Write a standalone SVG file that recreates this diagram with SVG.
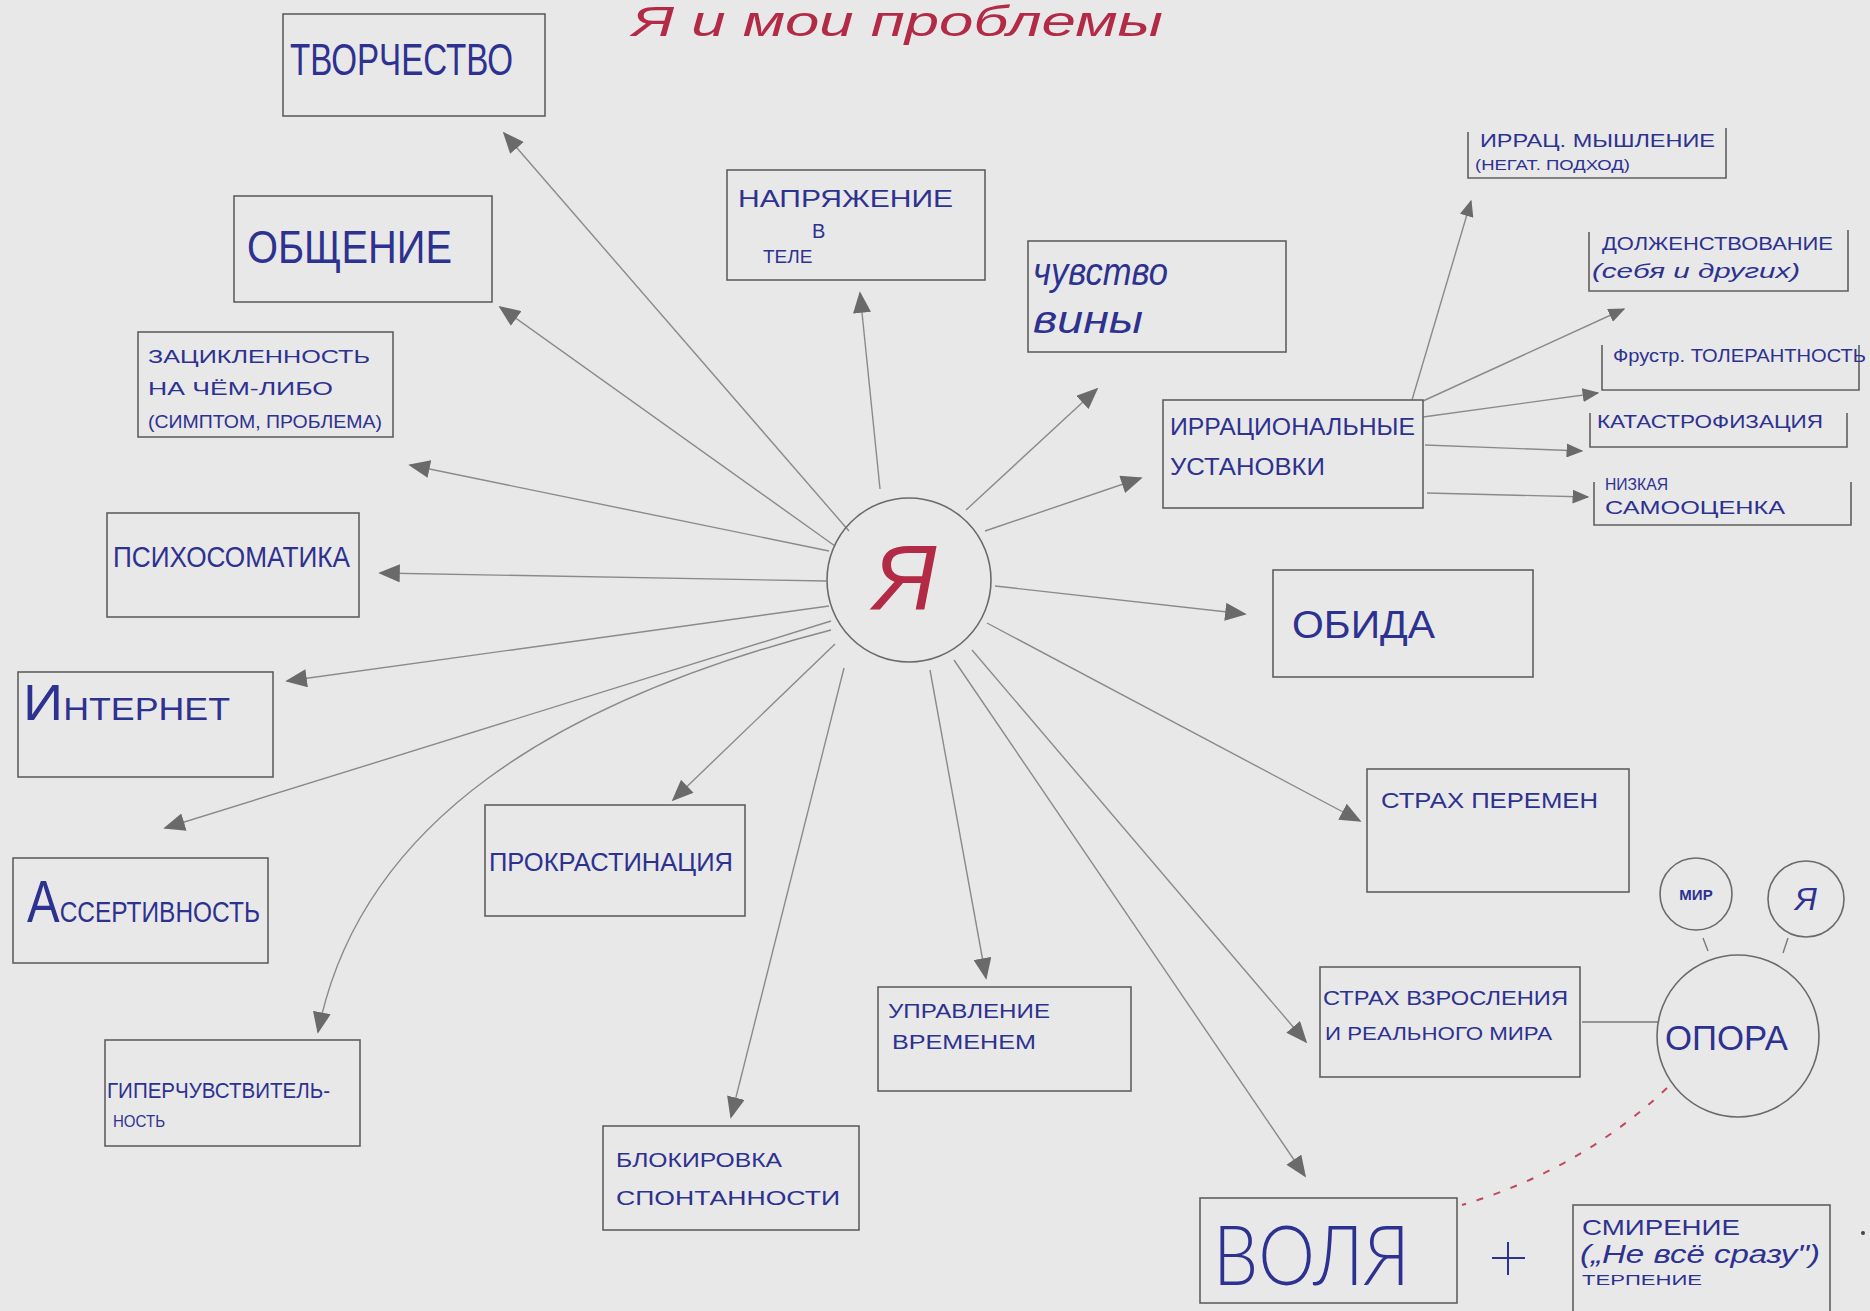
<svg xmlns="http://www.w3.org/2000/svg" width="1870" height="1311" viewBox="0 0 1870 1311">
<defs>
<marker id="ah" viewBox="0 0 12 10" refX="11" refY="5" markerWidth="22" markerHeight="18" markerUnits="userSpaceOnUse" orient="auto">
<path d="M0,0 L12,5 L0,10 z" fill="#6a6a6a"/>
</marker>
<marker id="ahs" viewBox="0 0 12 10" refX="11" refY="5" markerWidth="17" markerHeight="14" markerUnits="userSpaceOnUse" orient="auto">
<path d="M0,0 L12,5 L0,10 z" fill="#6a6a6a"/>
</marker>
<style>
.bg{fill:#e8e8e8}
.box{fill:none;stroke:#5f5f5f;stroke-width:1.6}
.circ{fill:none;stroke:#6a6a6a;stroke-width:1.6}
.t{font-family:"Liberation Sans","DejaVu Sans",sans-serif;fill:#2d3190}
.thin{font-family:"Lato","Open Sans","Liberation Sans",sans-serif;font-weight:300;fill:#2d3190}
.red{font-family:"Liberation Sans","DejaVu Sans",sans-serif;fill:#b22a45}
.ln{stroke:#8a8a8a;stroke-width:1.4;fill:none;marker-end:url(#ah)}
.lns{stroke:#8a8a8a;stroke-width:1.4;fill:none;marker-end:url(#ahs)}
.pl{stroke:#7a7a7a;stroke-width:1.4;fill:none}
</style>
</defs>
<rect class="bg" x="0" y="0" width="1870" height="1311"/>

<text class="red" x="632" y="36" font-size="42" font-style="italic" textLength="531" lengthAdjust="spacingAndGlyphs">Я и мои проблемы</text>

<g id="connectors">
<line class="ln" x1="849" y1="531" x2="504" y2="133"/>
<line class="ln" x1="835" y1="546" x2="500" y2="307"/>
<line class="ln" x1="880" y1="489" x2="860" y2="293"/>
<line class="ln" x1="966" y1="510" x2="1097" y2="389"/>
<line class="ln" x1="985" y1="531" x2="1141" y2="478"/>
<line class="ln" x1="829" y1="551" x2="410" y2="465"/>
<line class="ln" x1="826" y1="581" x2="380" y2="573"/>
<line class="ln" x1="829" y1="606" x2="287" y2="681"/>
<line class="ln" x1="831" y1="621" x2="165" y2="828"/>
<path class="ln" d="M831,630 C560,700 360,820 318,1032"/>
<line class="ln" x1="835" y1="644" x2="673" y2="800"/>
<line class="ln" x1="844" y1="668" x2="731" y2="1117"/>
<line class="ln" x1="930" y1="670" x2="986" y2="978"/>
<line class="ln" x1="987" y1="623" x2="1360" y2="821"/>
<line class="ln" x1="972" y1="650" x2="1306" y2="1042"/>
<line class="ln" x1="954" y1="660" x2="1305" y2="1176"/>
<line class="ln" x1="995" y1="586" x2="1245" y2="614"/>
<line class="lns" x1="1412" y1="400" x2="1471" y2="201"/>
<line class="lns" x1="1423" y1="401" x2="1624" y2="309"/>
<line class="lns" x1="1423" y1="417" x2="1598" y2="393"/>
<line class="lns" x1="1425" y1="445" x2="1582" y2="451"/>
<line class="lns" x1="1427" y1="493" x2="1588" y2="497"/>
<line class="pl" x1="1582" y1="1022" x2="1658" y2="1022"/>
<line class="pl" x1="1703" y1="938" x2="1708" y2="951"/>
<line class="pl" x1="1788" y1="938" x2="1783" y2="953"/>
<path d="M1667,1088 Q1580,1170 1462,1205" fill="none" stroke="#c04a5c" stroke-width="2" stroke-dasharray="7 11"/>
</g>

<g id="n-ya">
<circle class="circ" cx="909" cy="580" r="82"/>
<text class="red" x="905" y="610" font-size="92" font-style="italic" text-anchor="middle">Я</text>
</g>

<g id="n-tvorchestvo">
<rect class="box" x="283" y="14" width="262" height="102"/>
<text class="t" x="290" y="75" font-size="44" textLength="223" lengthAdjust="spacingAndGlyphs">ТВОРЧЕСТВО</text>
</g>

<g id="n-napryazhenie">
<rect class="box" x="727" y="170" width="258" height="110"/>
<text class="t" x="738" y="207" font-size="24" textLength="215" lengthAdjust="spacingAndGlyphs">НАПРЯЖЕНИЕ</text>
<text class="t" x="812" y="238" font-size="20">В</text>
<text class="t" x="763" y="263" font-size="19">ТЕЛЕ</text>
</g>

<g id="n-chuvstvo">
<rect class="box" x="1028" y="241" width="258" height="111"/>
<text class="t" x="1033" y="285" font-size="38" font-style="italic" textLength="135" lengthAdjust="spacingAndGlyphs">чувство</text>
<text class="t" x="1033" y="333" font-size="38" font-style="italic" textLength="110" lengthAdjust="spacingAndGlyphs">вины</text>
</g>

<g id="n-obshchenie">
<rect class="box" x="234" y="196" width="258" height="106"/>
<text class="t" x="247" y="263" font-size="46" textLength="205" lengthAdjust="spacingAndGlyphs">ОБЩЕНИЕ</text>
</g>

<g id="n-zatsiklennost">
<rect class="box" x="138" y="332" width="255" height="105"/>
<text class="t" x="148" y="363" font-size="19" textLength="222" lengthAdjust="spacingAndGlyphs">ЗАЦИКЛЕННОСТЬ</text>
<text class="t" x="148" y="395" font-size="19" textLength="185" lengthAdjust="spacingAndGlyphs">НА  ЧЁМ-ЛИБО</text>
<text class="t" x="148" y="428" font-size="18" textLength="234" lengthAdjust="spacingAndGlyphs">(СИМПТОМ, ПРОБЛЕМА)</text>
</g>

<g id="n-psikhosomatika">
<rect class="box" x="107" y="513" width="252" height="104"/>
<text class="t" x="113" y="567" font-size="29" textLength="237" lengthAdjust="spacingAndGlyphs">ПСИХОСОМАТИКА</text>
</g>

<g id="n-internet">
<rect class="box" x="18" y="672" width="255" height="105"/>
<text class="t" x="23" y="720" font-size="50" textLength="207" lengthAdjust="spacingAndGlyphs">И<tspan font-size="32">НТЕРНЕТ</tspan></text>
</g>

<g id="n-assertivnost">
<rect class="box" x="13" y="858" width="255" height="105"/>
<text class="t" x="27" y="922" font-size="60" textLength="233" lengthAdjust="spacingAndGlyphs">А<tspan font-size="30">ССЕРТИВНОСТЬ</tspan></text>
</g>

<g id="n-giper">
<rect class="box" x="105" y="1040" width="255" height="106"/>
<text class="t" x="107" y="1098" font-size="22" textLength="223" lengthAdjust="spacingAndGlyphs">ГИПЕРЧУВСТВИТЕЛЬ-</text>
<text class="t" x="113" y="1127" font-size="16" textLength="52" lengthAdjust="spacingAndGlyphs">НОСТЬ</text>
</g>

<g id="n-prokrastinatsiya">
<rect class="box" x="485" y="805" width="260" height="111"/>
<text class="t" x="489" y="871" font-size="25" textLength="244" lengthAdjust="spacingAndGlyphs">ПРОКРАСТИНАЦИЯ</text>
</g>

<g id="n-blokirovka">
<rect class="box" x="603" y="1126" width="256" height="104"/>
<text class="t" x="616" y="1167" font-size="21" textLength="166" lengthAdjust="spacingAndGlyphs">БЛОКИРОВКА</text>
<text class="t" x="616" y="1205" font-size="21" textLength="224" lengthAdjust="spacingAndGlyphs">СПОНТАННОСТИ</text>
</g>

<g id="n-upravlenie">
<rect class="box" x="878" y="987" width="253" height="104"/>
<text class="t" x="888" y="1018" font-size="20" textLength="162" lengthAdjust="spacingAndGlyphs">УПРАВЛЕНИЕ</text>
<text class="t" x="892" y="1049" font-size="20" textLength="144" lengthAdjust="spacingAndGlyphs">ВРЕМЕНЕМ</text>
</g>

<g id="n-irratsionalnye">
<rect class="box" x="1163" y="400" width="260" height="108"/>
<text class="t" x="1170" y="435" font-size="24" textLength="245" lengthAdjust="spacingAndGlyphs">ИРРАЦИОНАЛЬНЫЕ</text>
<text class="t" x="1170" y="475" font-size="24" textLength="155" lengthAdjust="spacingAndGlyphs">УСТАНОВКИ</text>
</g>

<g id="n-myshlenie">
<path class="box" d="M1468,132 V178 H1726 V128"/>
<text class="t" x="1480" y="147" font-size="19" textLength="235" lengthAdjust="spacingAndGlyphs">ИРРАЦ. МЫШЛЕНИЕ</text>
<text class="t" x="1475" y="170" font-size="15" textLength="155" lengthAdjust="spacingAndGlyphs">(НЕГАТ. ПОДХОД)</text>
</g>

<g id="n-dolzhenstvovanie">
<path class="box" d="M1589,232 V291 H1848 V230"/>
<text class="t" x="1602" y="250" font-size="18" textLength="231" lengthAdjust="spacingAndGlyphs">ДОЛЖЕНСТВОВАНИЕ</text>
<text class="t" x="1592" y="278" font-size="21" font-style="italic" textLength="208" lengthAdjust="spacingAndGlyphs">(себя и других)</text>
</g>

<g id="n-frustr">
<path class="box" d="M1602,345 V390 H1859 V345"/>
<text class="t" x="1613" y="362" font-size="18" textLength="253" lengthAdjust="spacingAndGlyphs">Фрустр. ТОЛЕРАНТНОСТЬ</text>
</g>

<g id="n-katastrofizatsiya">
<path class="box" d="M1590,413 V447 H1847 V413"/>
<text class="t" x="1597" y="428" font-size="18" textLength="226" lengthAdjust="spacingAndGlyphs">КАТАСТРОФИЗАЦИЯ</text>
</g>

<g id="n-samootsenka">
<path class="box" d="M1594,482 V525 H1851 V482"/>
<text class="t" x="1605" y="490" font-size="16" textLength="63" lengthAdjust="spacingAndGlyphs">НИЗКАЯ</text>
<text class="t" x="1605" y="514" font-size="19" textLength="180" lengthAdjust="spacingAndGlyphs">САМООЦЕНКА</text>
</g>

<g id="n-obida">
<rect class="box" x="1273" y="570" width="260" height="107"/>
<text class="t" x="1292" y="638" font-size="38" textLength="143" lengthAdjust="spacingAndGlyphs">ОБИДА</text>
</g>

<g id="n-strakh-peremen">
<rect class="box" x="1367" y="769" width="262" height="123"/>
<text class="t" x="1381" y="808" font-size="22" textLength="217" lengthAdjust="spacingAndGlyphs">СТРАХ ПЕРЕМЕН</text>
</g>

<g id="n-strakh-vzrosleniya">
<rect class="box" x="1320" y="967" width="260" height="110"/>
<text class="t" x="1323" y="1005" font-size="21" textLength="245" lengthAdjust="spacingAndGlyphs">СТРАХ ВЗРОСЛЕНИЯ</text>
<text class="t" x="1325" y="1040" font-size="19" textLength="227" lengthAdjust="spacingAndGlyphs">И РЕАЛЬНОГО МИРА</text>
</g>

<g id="n-opora">
<circle class="circ" cx="1738" cy="1036" r="81"/>
<text class="t" x="1665" y="1050" font-size="35" textLength="123" lengthAdjust="spacingAndGlyphs">ОПОРА</text>
</g>

<g id="n-mir">
<circle class="circ" cx="1696" cy="894" r="36"/>
<text class="t" x="1696" y="900" font-size="15" font-weight="bold" text-anchor="middle">МИР</text>
</g>

<g id="n-ya-small">
<circle class="circ" cx="1806" cy="899" r="38"/>
<text class="t" x="1806" y="910" font-size="32" font-style="italic" text-anchor="middle">Я</text>
</g>

<g id="n-volya">
<rect class="box" x="1200" y="1198" width="257" height="105"/>
<text class="thin" x="1213" y="1285" font-size="82" textLength="197" lengthAdjust="spacingAndGlyphs">ВОЛЯ</text>
</g>

<g id="n-plus">
<line x1="1492" y1="1258" x2="1525" y2="1258" stroke="#2d3190" stroke-width="2"/>
<line x1="1508" y1="1242" x2="1508" y2="1275" stroke="#2d3190" stroke-width="2"/>
</g>

<g id="n-smirenie">
<rect class="box" x="1573" y="1205" width="257" height="108"/>
<text class="t" x="1582" y="1235" font-size="22" textLength="158" lengthAdjust="spacingAndGlyphs">СМИРЕНИЕ</text>
<text class="t" x="1580" y="1263" font-size="26" font-style="italic" textLength="240" lengthAdjust="spacingAndGlyphs">(„Не всё сразу")</text>
<text class="t" x="1582" y="1285" font-size="14" textLength="120" lengthAdjust="spacingAndGlyphs">ТЕРПЕНИЕ</text>
</g>

<circle cx="1863" cy="1233" r="2" fill="#444"/>
</svg>
